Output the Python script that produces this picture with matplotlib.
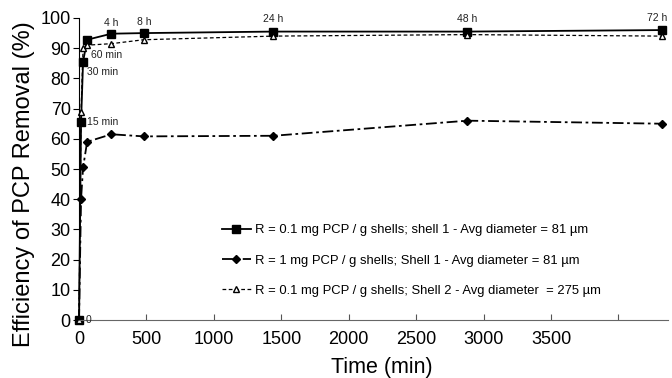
import matplotlib
matplotlib.use("Agg")
import matplotlib.pyplot as plt

plt.rcParams['font.family'] = ['Liberation Sans', 'DejaVu Sans']

time_min = [0, 15, 30, 60, 240, 480, 1440, 2880, 4320]
s1_values = [0, 65.5, 85.5, 92.8, 94.8, 95.0, 95.5, 95.5, 96.0]
s2_values = [0, 40.0, 50.5, 59.0, 61.5, 60.8, 61.0, 66.0, 65.0]
s3_values = [0, 69.0, 90.0, 91.0, 91.5, 92.8, 94.0, 94.5, 94.0]

labels = ["R = 0.1 mg PCP / g shells; shell 1 - Avg diameter = 81 µm",
          "R = 1 mg PCP / g shells; Shell 1 - Avg diameter = 81 µm",
          "R = 0.1 mg PCP / g shells; Shell 2 - Avg diameter  = 275 µm"]
point_labels = ["0", "15 min", "30 min", "60 min", "4 h", "8 h", "24 h", "48 h", "72 h"]
xticks = [0, 500, 1000, 1500, 2000, 2500, 3000, 3500, 4000]
xtick_labels = ["0", "500", "1000", "1500", "2000", "2500", "3000", "3500", ""]
yticks = list(range(0, 101, 10))

fig = plt.figure(figsize=(6.72, 3.78), dpi=100)
ax = fig.add_axes([0.1176, 0.1534, 0.877, 0.799])

ax.plot(time_min, s1_values, '-', color='black', lw=1.3, marker='s', ms=5.5,
        mfc='black', mec='black', label=labels[0])
ax.plot(time_min, s2_values, color='black', lw=1.3, dashes=[6, 2, 1.5, 2],
        marker='D', ms=4, mfc='black', mec='black', label=labels[1])
ax.plot(time_min, s3_values, color='black', lw=0.9, dashes=[3, 2],
        marker='^', ms=5, mfc='white', mec='black', label=labels[2])

# point annotations
offsets = {
    "0": (5, 0, 'left', 'center'),
    "15 min": (4.5, 0, 'left', 'center'),
    "30 min": (3, -7.5, 'left', 'center'),
    "60 min": (3, -11, 'left', 'center'),
    "4 h": (0, 8, 'center', 'center'),
    "8 h": (0, 8, 'center', 'center'),
    "24 h": (0, 9, 'center', 'center'),
    "48 h": (0, 9, 'center', 'center'),
    "72 h": (-3, 9, 'center', 'center'),
}
for t, v, lab in zip(time_min, s1_values, point_labels):
    dx, dy, ha, va = offsets[lab]
    ax.annotate(lab, (t, v), xytext=(dx, dy), textcoords='offset points',
                ha=ha, va=va, fontsize=7.5, color='#222222')

ax.set_xlim(0, 4370)
ax.set_ylim(0, 100)
ax.set_xticks(xticks)
ax.set_xticklabels(xtick_labels)
ax.set_yticks(yticks)
ax.tick_params(axis='x', direction='in', length=4, labelsize=13, color='#555555', pad=8)
ax.tick_params(axis='y', direction='out', length=4, labelsize=13, pad=2)
for s in ['top', 'right']:
    ax.spines[s].set_visible(False)
ax.spines['bottom'].set_color('#666666')
ax.spines['left'].set_color('black')
for line in ax.lines:
    line.set_clip_on(False)

ax.set_xlabel("Time (min)", fontsize=15.5)
ax.xaxis.set_label_coords(0.514, -0.122)
ax.set_ylabel("Efficiency of PCP Removal (%)", fontsize=17, va='center')
ax.yaxis.set_label_coords(-0.093, 0.45)

leg = ax.legend(loc='upper left', bbox_to_anchor=(0.233, 0.335), frameon=False,
                fontsize=9.4, handlelength=2.25, handletextpad=0.3, labelspacing=1.4,
                borderaxespad=0)

fig.savefig("out.png", dpi=100)
